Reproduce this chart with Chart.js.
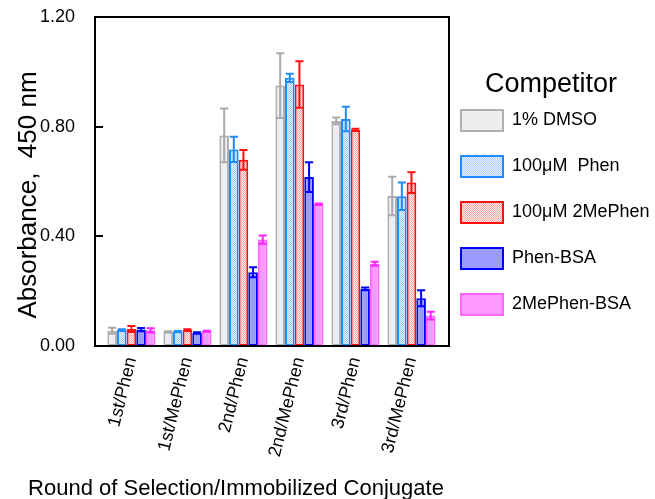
<!DOCTYPE html>
<html>
<head>
<meta charset="utf-8">
<script src="https://cdn.jsdelivr.net/npm/chart.js@4.4.1/dist/chart.umd.min.js"></script>
<style>
  body { margin: 0; background: #fff; }
  #wrap { position: relative; width: 655px; height: 499px; }
</style>
</head>
<body>
<div id="wrap"><canvas id="absChart"></canvas></div>
<script>
// values (mean and error per competitor)
const categories = ['1st/Phen', '1st/MePhen', '2nd/Phen', '2nd/MePhen', '3rd/Phen', '3rd/MePhen'];
const yTicks = [0, 0.4, 0.8, 1.2];

const dmso = [0.056, 0.052, 0.768, 0.950, 0.821, 0.547];
const dmsoErr = [0.011, 0.002, 0.098, 0.118, 0.012, 0.070];
const phen = [0.058, 0.053, 0.717, 0.978, 0.828, 0.546];
const phenErr = [0.003, 0.002, 0.046, 0.015, 0.045, 0.050];
const mePhen = [0.062, 0.058, 0.679, 0.954, 0.788, 0.596];
const mePhenErr = [0.011, 0.003, 0.036, 0.085, 0.004, 0.038];
const phenBsa = [0.060, 0.048, 0.269, 0.616, 0.208, 0.174];
const phenBsaErr = [0.006, 0.002, 0.018, 0.054, 0.005, 0.029];
const mePhenBsa = [0.057, 0.054, 0.388, 0.517, 0.300, 0.111];
const mePhenBsaErr = [0.008, 0.002, 0.015, 0.003, 0.007, 0.014];

const FONT = '"Liberation Sans", Arial, sans-serif';
Chart.defaults.font.family = FONT;
Chart.defaults.color = '#000';

function checker(bg, fg) {
  const c = document.createElement('canvas');
  c.width = 2; c.height = 2;
  const g = c.getContext('2d');
  g.fillStyle = bg; g.fillRect(0, 0, 2, 2);
  g.fillStyle = fg; g.fillRect(0, 0, 1, 1); g.fillRect(1, 1, 1, 1);
  return g.createPattern(c, 'repeat');
}

function series(label, values, errors, fill, border, errColor) {
  return {
    label: label,
    data: values.map((v, i) => ({ x: i, y: v })),
    errors: errors,
    errColor: errColor,
    backgroundColor: fill,
    borderColor: border,
    borderWidth: 2,
    borderSkipped: false,
    categoryPercentage: 0.86,
    barPercentage: 1.0
  };
}

// error bars + box frame + inward y ticks + axis titles
const decorations = {
  id: 'decorations',
  afterDatasetsDraw(chart) {
    const ctx = chart.ctx;
    const y = chart.scales.y;
    ctx.save();
    ctx.lineWidth = 2;
    chart.data.datasets.forEach((ds, di) => {
      const meta = chart.getDatasetMeta(di);
      ctx.strokeStyle = ds.errColor;
      meta.data.forEach((bar, j) => {
        const v = ds.data[j].y, e = ds.errors[j];
        const top = y.getPixelForValue(v + e);
        const bot = y.getPixelForValue(v - e);
        const half = bar.width * 0.42;
        ctx.beginPath();
        ctx.moveTo(bar.x, top); ctx.lineTo(bar.x, bot);
        ctx.moveTo(bar.x - half, top); ctx.lineTo(bar.x + half, top);
        ctx.moveTo(bar.x - half, bot); ctx.lineTo(bar.x + half, bot);
        ctx.stroke();
      });
    });
    ctx.restore();
  },
  afterDraw(chart) {
    const ctx = chart.ctx;
    const a = chart.chartArea;
    const y = chart.scales.y;
    ctx.save();
    ctx.strokeStyle = '#000';
    ctx.lineWidth = 2;
    ctx.strokeRect(a.left, a.top, a.right - a.left, a.bottom - a.top);
    y.ticks.forEach(t => {
      const py = Math.round(y.getPixelForValue(t.value));
      ctx.beginPath();
      ctx.moveTo(a.left, py); ctx.lineTo(a.left + 8, py);
      ctx.stroke();
    });
    ctx.fillStyle = '#000';
    ctx.font = '22px ' + FONT;
    ctx.textAlign = 'center';
    ctx.textBaseline = 'alphabetic';
    ctx.fillText('Round of Selection/Immobilized Conjugate', 236, 495);
    ctx.translate(36, 195);
    ctx.rotate(-Math.PI / 2);
    ctx.font = '26px ' + FONT;
    ctx.fillText('Absorbance,  450 nm', 0, 0);
    ctx.restore();
  }
};

new Chart(document.getElementById('absChart'), {
  type: 'bar',
  data: {
    datasets: [
      series('1% DMSO', dmso, dmsoErr, '#eeeeee', '#b0b0b0', '#aaaaaa'),
      series('100\u03bcM  Phen', phen, phenErr, checker('#eaf3ff', '#a6cbf7'), '#1e8cff', '#1e8cff'),
      series('100\u03bcM 2MePhen', mePhen, mePhenErr, checker('#ffeeee', '#f7a4a4'), '#ff1010', '#ff1010'),
      series('Phen-BSA', phenBsa, phenBsaErr, '#9c9cff', '#0000ff', '#0000ff'),
      series('2MePhen-BSA', mePhenBsa, mePhenBsaErr, '#ff99ff', '#ff66ff', '#ff22ff')
    ]
  },
  options: {
    responsive: true,
    maintainAspectRatio: false,
    animation: false,
    layout: { padding: { top: 17, right: 2, left: 0, bottom: 0 } },
    plugins: {
      tooltip: { enabled: false },
      legend: {
        position: 'right',
        align: 'start',
        maxWidth: 204,
        title: {
          display: true,
          text: 'Competitor',
          font: { size: 27, lineHeight: 1 },
          padding: { top: 54, bottom: 0 }
        },
        labels: {
          boxWidth: 42,
          boxHeight: 21,
          padding: 12,
          font: { size: 18, lineHeight: '34px' },
          generateLabels(chart) {
            const items = Chart.defaults.plugins.legend.labels.generateLabels(chart);
            return items.map(it => Object.assign(it, { text: [it.text] }));
          }
        }
      }
    },
    scales: {
      x: {
        type: 'linear',
        min: -0.65,
        max: 5.67,
        offset: false,
        grid: { display: false, offset: false },
        border: { display: false },
        afterBuildTicks(scale) {
          scale.ticks = categories.map((c, i) => ({ value: i }));
        },
        afterFit(scale) { scale.height = 153; },
        ticks: {
          autoSkip: false,
          minRotation: 76,
          maxRotation: 76,
          padding: 1,
          font: { size: 18 },
          callback: v => categories[v]
        }
      },
      y: {
        min: 0,
        max: 1.2,
        grid: { display: false },
        border: { display: false },
        afterBuildTicks(scale) {
          scale.ticks = yTicks.map(v => ({ value: v }));
        },
        afterFit(scale) {
          scale.width = 95;
          scale.paddingTop = 0;
          scale.paddingBottom = 0;
        },
        ticks: {
          padding: 12,
          font: { size: 18 },
          callback: v => v.toFixed(2)
        }
      }
    }
  },
  plugins: [decorations]
});
</script>
</body>
</html>
